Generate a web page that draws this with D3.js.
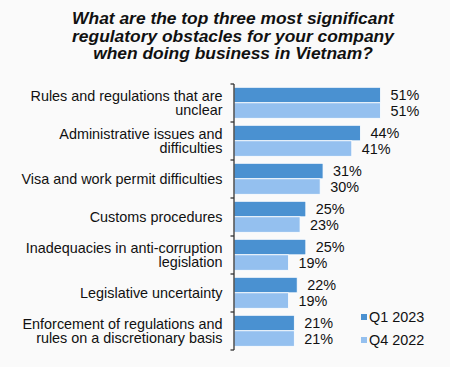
<!DOCTYPE html>
<html><head><meta charset="utf-8">
<script src="https://cdn.jsdelivr.net/npm/d3@7"></script>
<style>html,body{margin:0;padding:0;background:#fafafa;}svg{display:block;font-family:"Liberation Sans",Arial,sans-serif;}</style>
</head><body>
<svg id="chart" width="450" height="367"></svg>
<script>
const titleLines = ["What are the top three most significant","regulatory obstacles for your company","when doing business in Vietnam?"];
const categories = [
  ["Rules and regulations that are","unclear"],
  ["Administrative issues and","difficulties"],
  ["Visa and work permit difficulties"],
  ["Customs procedures"],
  ["Inadequacies in anti-corruption","legislation"],
  ["Legislative uncertainty"],
  ["Enforcement of regulations and","rules on a discretionary basis"]
];
const seriesNames = ["Q1 2023","Q4 2022"];
const q1_2023 = [51,44,31,25,25,22,21];
const q4_2022 = [51,41,30,23,19,19,21];
const colors = ["#4a91d1","#94c0ef"];

const svg = d3.select("#chart");
svg.append("rect").attr("width",450).attr("height",367).attr("fill","#fafafa");

const title = svg.append("text").attr("text-anchor","middle")
  .attr("font-weight","bold").attr("font-style","italic").attr("font-size",17.4).attr("fill","#111");
titleLines.forEach((t,i)=>title.append("tspan").attr("x",233).attr("y",24+i*17.6).text(t));

const x0 = 234, y0 = 84, y1 = 350;
const x = d3.scaleLinear().domain([0,51]).range([x0, 380.5]);
const y = d3.scaleBand().domain(d3.range(categories.length)).range([y0,y1]).paddingInner(0).paddingOuter(0);
const sub = d3.scaleBand().domain([0,1]).range([3.3, 34.3]);

const series = [q1_2023, q4_2022];
const g = svg.append("g");
categories.forEach((c,i)=>{
  series.forEach((s,j)=>{
    const by = y(i)+sub(j);
    g.append("rect").attr("x",x(0)).attr("y",by).attr("width",x(s[i])-x(0)).attr("height",sub.bandwidth())
      .attr("fill",colors[j]).attr("stroke","#ffffff").attr("stroke-width",0.8);
    g.append("text").attr("x",x(s[i])+10).attr("y",by+sub.bandwidth()/2).attr("dy","0.35em")
      .attr("font-size",14.4).attr("fill","#111").text(s[i]+"%");
  });
  const cy = y(i)+y.bandwidth()/2;
  const t = g.append("text").attr("text-anchor","end").attr("font-size",14.4).attr("fill","#111");
  const n = c.length, lh = 14.5;
  c.forEach((line,k)=>t.append("tspan").attr("x",222.5).attr("y",cy+(k-(n-1)/2)*lh).attr("dy","0.35em").text(line));
});

// axis
const ax = svg.append("g");
ax.append("line").attr("x1",x0).attr("x2",x0).attr("y1",y0).attr("y2",y1).attr("stroke","#333").attr("stroke-width",1.3);
d3.range(categories.length+1).forEach(i=>{
  const ty = i<categories.length ? y(i) : y1;
  ax.append("line").attr("x1",x0-3.5).attr("x2",x0).attr("y1",ty).attr("y2",ty).attr("stroke","#333").attr("stroke-width",1.3);
});

// legend
const lg = svg.append("g");
seriesNames.forEach((nm,j)=>{
  const ly = 317 + j*23;
  lg.append("rect").attr("x",361).attr("y",ly-3).attr("width",6).attr("height",6).attr("fill",colors[j]);
  lg.append("text").attr("x",369).attr("y",ly).attr("dy","0.35em").attr("font-size",14.4).attr("fill","#111").text(nm);
});
</script>
</body></html>
